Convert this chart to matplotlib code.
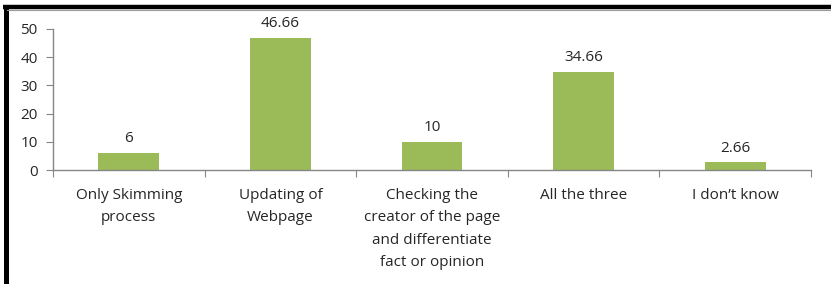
import matplotlib
matplotlib.use("Agg")
import matplotlib.pyplot as plt
from matplotlib.lines import Line2D

categories = ["Only Skimming\nprocess", "Updating of\nWebpage",
              "Checking the\ncreator of the page\nand differentiate\nfact or opinion",
              "All the three", "I don\u2019t know"]
values = [6, 46.66, 10, 34.66, 2.66]
value_labels = ["6", "46.66", "10", "34.66", "2.66"]
yticks = [0, 10, 20, 30, 40, 50]

plt.rcParams['font.family'] = ['Open Sans', 'DejaVu Sans']
W, H = 831, 284
FS = 11
TXT = "#262626"
fig = plt.figure(figsize=(W / 100, H / 100), dpi=100)
ax = fig.add_axes([53 / W, 1 - 170 / H, (811 - 53) / W, (170 - 29) / H])

x = list(range(len(categories)))
ax.bar(x, values, width=0.4, color="#9BBB59", zorder=2)
for xi, v, lab in zip(x, values, value_labels):
    ax.annotate(lab, (xi, v), xytext=(0, 5), textcoords="offset points",
                ha="center", va="bottom", fontsize=FS, color=TXT)

ax.set_xlim(-0.5, len(categories) - 0.5)
ax.set_ylim(0, 50)
ax.set_yticks(yticks)
ax.set_yticklabels([str(t) for t in yticks], fontsize=FS, color=TXT)
ax.set_xticks([i - 0.5 for i in range(len(categories) + 1)])
ax.set_xticklabels([])
ax.set_xticks(x, minor=True)
ax.set_xticklabels(categories, minor=True, fontsize=FS, color=TXT,
                   linespacing=1.67, va="top")
ax.tick_params(axis="x", which="minor", length=0, pad=13)
ax.tick_params(axis="x", which="major", length=5, color="#868686", direction="out")
ax.tick_params(axis="y", length=5, color="#868686", direction="out", pad=6)
for s in ["top", "right"]:
    ax.spines[s].set_visible(False)
for s in ["left", "bottom"]:
    ax.spines[s].set_color("#868686")
    ax.spines[s].set_linewidth(1)

# outer black border (top and left)
fig.add_artist(Line2D([3 / W, 1], [1 - 7 / H, 1 - 7 / H], color="black",
                      linewidth=3.2, solid_capstyle="butt", transform=fig.transFigure))
fig.add_artist(Line2D([5.5 / W, 5.5 / W], [1 - 5 / H, 0], color="black",
                      linewidth=3.6, solid_capstyle="butt", transform=fig.transFigure))
fig.add_artist(Line2D([7 / W, 1], [1 - 9.8 / H, 1 - 9.8 / H], color="#9a9a9a",
                      linewidth=0.8, transform=fig.transFigure))

fig.savefig("out.png", dpi=100)
